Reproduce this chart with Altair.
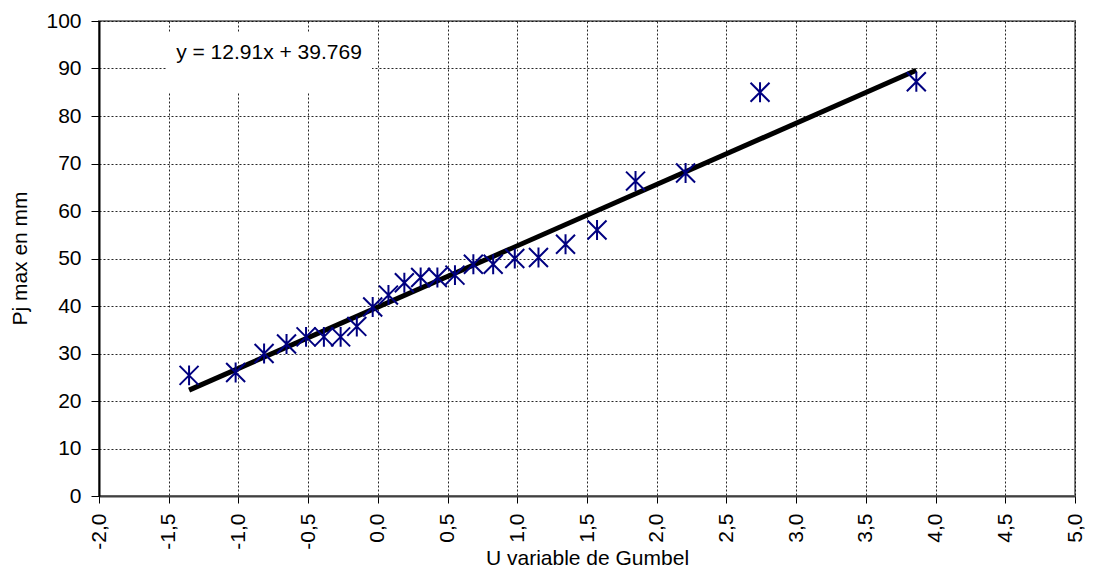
import altair as alt
import pandas as pd

# Gumbel reduced variate and max daily rainfall (mm)
u_values = [-1.354, -1.020, -0.816, -0.655, -0.515, -0.387, -0.267, -0.151,
            -0.037, 0.076, 0.190, 0.307, 0.427, 0.553, 0.685, 0.827,
            0.982, 1.152, 1.346, 1.572, 1.848, 2.207, 2.741, 3.862]
pj_values = [25.4, 26.0, 30.0, 32.0, 33.5, 33.5, 33.5, 35.7,
             39.8, 42.3, 44.9, 46.0, 46.0, 46.5, 48.8, 48.8,
             50.0, 50.2, 53.0, 56.0, 66.3, 68.0, 85.0, 87.2]

slope = 12.91
intercept = 39.769
equation_label = "y = 12.91x + 39.769"

x_ticks = [-2.0, -1.5, -1.0, -0.5, 0.0, 0.5, 1.0, 1.5, 2.0, 2.5, 3.0, 3.5, 4.0, 4.5, 5.0]
y_ticks = [0, 10, 20, 30, 40, 50, 60, 70, 80, 90, 100]

pts = pd.DataFrame({"u": u_values, "pj": pj_values})
x_line = [min(u_values), max(u_values)]
line_df = pd.DataFrame({"u": x_line, "pj": [slope * v + intercept for v in x_line]})

FONT = "Liberation Sans"
FS = 21

common_axis = dict(
    labelFont=FONT,
    titleFont=FONT,
    labelFontSize=FS,
    titleFontSize=FS,
    titleFontWeight="normal",
    labelColor="black",
    titleColor="black",
    tickColor="#000000",
    tickWidth=1,
    gridColor="#000000",
    gridDash=[2, 2],
    gridWidth=1,
    gridOpacity=0.85,
)

xscale = alt.Scale(domain=[-2, 5], nice=False, zero=False)
yscale = alt.Scale(domain=[0, 100], nice=False)

xaxis = alt.Axis(
    values=x_ticks,
    title="U variable de Gumbel",
    labelAngle=270,
    labelExpr="(datum.value < 0 ? '-' : '') + replace(format(abs(datum.value), '.1f'), '.', ',')",
    tickSize=7,
    labelPadding=10,
    titleY=62,
    titleBaseline="middle",
    domainColor="#404040",
    domainWidth=2,
    **common_axis,
)
yaxis = alt.Axis(
    values=y_ticks,
    title="Pj max en mm",
    tickSize=8,
    labelPadding=10,
    titleAngle=270,
    titleX=-79,
    titleY=237,
    titleAlign="center",
    titleBaseline="middle",
    domainColor="#000000",
    domainWidth=2,
    **common_axis,
)

base = alt.Chart(pts)

points = base.mark_point(
    shape="M-1,-1L1,1M-1,1L1,-1M0,-1.05L0,1.05",
    size=360,
    filled=False,
    color="#000080",
    strokeWidth=2,
    opacity=1,
).encode(
    x=alt.X("u:Q", scale=xscale, axis=xaxis),
    y=alt.Y("pj:Q", scale=yscale, axis=yaxis),
)

reg = alt.Chart(line_df).mark_line(color="black", strokeWidth=5).encode(
    x=alt.X("u:Q", scale=xscale),
    y=alt.Y("pj:Q", scale=yscale),
)

box = alt.Chart(pd.DataFrame({"t": [equation_label]})).mark_rect(color="white").encode(
    x=alt.value(68), x2=alt.value(273), y=alt.value(11), y2=alt.value(71)
)
label = alt.Chart(pd.DataFrame({"t": [equation_label]})).mark_text(
    font=FONT, fontSize=FS, color="black", align="center", baseline="middle"
).encode(
    text="t:N", x=alt.value(170), y=alt.value(32)
)

chart = alt.layer(box, label, reg, points).properties(
    width=976,
    height=475,
    background="white",
    autosize=alt.AutoSizeParams(type="none"),
    padding={"left": 91, "top": 13, "right": 11, "bottom": 75},
).configure_view(
    stroke="#808080", strokeWidth=2
)

chart.save("out.html", embed_options={"renderer": "svg", "actions": False})
